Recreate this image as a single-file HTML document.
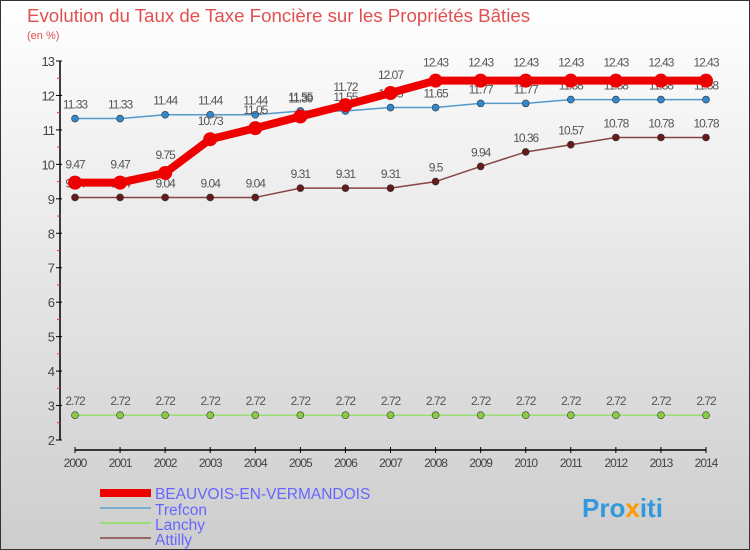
<!DOCTYPE html>
<html><head><meta charset="utf-8"><style>
body{margin:0}
svg{display:block;font-family:"Liberation Sans",sans-serif}
</style></head><body>
<svg width="750" height="550" viewBox="0 0 750 550">
<defs><linearGradient id="bg" x1="0" y1="0" x2="0" y2="1"><stop offset="0" stop-color="#ffffff"/><stop offset="1" stop-color="#cdcdcd"/></linearGradient></defs>
<rect x="0.5" y="0.5" width="749" height="549" fill="url(#bg)" stroke="#333"/>
<text x="27" y="22" font-size="18.7" fill="#e05050">Evolution du Taux de Taxe Foncière sur les Propriétés Bâties</text>
<text x="27" y="39" font-size="11" fill="#e05050">(en %)</text>
<g id="axes"></g>
<g id="series"></g>
<g>
<rect x="100" y="489" width="51" height="8" fill="#e00"/>
<text x="155" y="499" font-size="15.5" fill="#6666ff">BEAUVOIS-EN-VERMANDOIS</text>
<rect x="100" y="507" width="51" height="2" fill="#7aaed0"/>
<text x="155" y="515" font-size="15.5" fill="#6666ff">Trefcon</text>
<rect x="100" y="522" width="51" height="2" fill="#99dd77"/>
<text x="155" y="530" font-size="15.5" fill="#6666ff">Lanchy</text>
<rect x="100" y="537" width="51" height="2" fill="#996666"/>
<text x="155" y="545" font-size="15.5" fill="#6666ff">Attilly</text>
</g>
<text x="582" y="517" font-size="26" font-weight="bold" fill="#3399dd">Pro<tspan fill="#ff9900">x</tspan>iti</text>
<script>
const years=[2000,2001,2002,2003,2004,2005,2006,2007,2008,2009,2010,2011,2012,2013,2014];
const beauvois=[9.47,9.47,9.75,10.73,11.05,11.39,11.72,12.07,12.43,12.43,12.43,12.43,12.43,12.43,12.43];
const trefcon=[11.33,11.33,11.44,11.44,11.44,11.55,11.55,11.65,11.65,11.77,11.77,11.88,11.88,11.88,11.88];
const lanchy=[2.72,2.72,2.72,2.72,2.72,2.72,2.72,2.72,2.72,2.72,2.72,2.72,2.72,2.72,2.72];
const attilly=[9.04,9.04,9.04,9.04,9.04,9.31,9.31,9.31,9.5,9.94,10.36,10.57,10.78,10.78,10.78];
const yTicks=[2,3,4,5,6,7,8,9,10,11,12,13];
const NS="http://www.w3.org/2000/svg";
const X=i=>75+i*(706-75)/(years.length-1);
const Y=v=>440-(v-2)*(440-61)/11;
function mk(tag,at,parent){const e=document.createElementNS(NS,tag);for(const k in at)e.setAttribute(k,at[k]);parent.appendChild(e);return e;}
const ax=document.getElementById('axes'),sg=document.getElementById('series');
let yl=mk('line',{x1:60,y1:Y(13),x2:60,y2:Y(2),stroke:'#000','stroke-width':1.5},ax);


yTicks.forEach(t=>{
 mk('line',{x1:56,y1:Y(t),x2:62,y2:Y(t),stroke:'#000'},ax);
 if(t<13)mk('line',{x1:57,y1:Y(t+0.5),x2:60,y2:Y(t+0.5),stroke:'#e33'},ax);
 const tx=mk('text',{x:54,y:Y(t)+5,'font-size':13,'text-anchor':'end',fill:'#444','letter-spacing':'-1'},ax);
 tx.textContent=t;
 
 
});
let xl=mk('line',{x1:X(0),y1:450,x2:X(14),y2:450,stroke:'#000','stroke-width':1.5},ax);


years.forEach((yr,i)=>{
 mk('line',{x1:X(i),y1:447,x2:X(i),y2:453,stroke:'#000'},ax);
 const tx=mk('text',{x:X(i),y:467,'font-size':12,'text-anchor':'middle',fill:'#444','letter-spacing':'-1'},ax);
 tx.textContent=yr;
 
 
});
function series(vals,name,color,lw,r,dot,labelOff){
 const g=mk('g',{},sg);
 
 
 mk('polyline',{points:vals.map((v,i)=>X(i)+','+Y(v)).join(' '),fill:'none',stroke:color,'stroke-width':lw,'stroke-linejoin':'round'},g);
 vals.forEach((v,i)=>{
  const c=mk('circle',{cx:X(i),cy:Y(v),r:r,fill:dot,stroke:'#333','stroke-width':r>5?0:0.6},g);
  
  
  const t=mk('text',{x:X(i),y:Y(v)-labelOff,'font-size':12,'text-anchor':'middle',fill:'#555','letter-spacing':'-1'},g);
  t.textContent=v;
  
  
 });
}
series(lanchy,'lanchy','#99dd77',1.5,3.5,'#88cc44',10);
series(attilly,'attilly','#884444',1.5,3.5,'#661a1a',10);
series(trefcon,'trefcon','#5599cc',1.5,3.5,'#3388cc',10);
series(beauvois,'beauvois','#ee0000',8,7,'#ee0000',14);
</script>
</svg>
</body></html>
